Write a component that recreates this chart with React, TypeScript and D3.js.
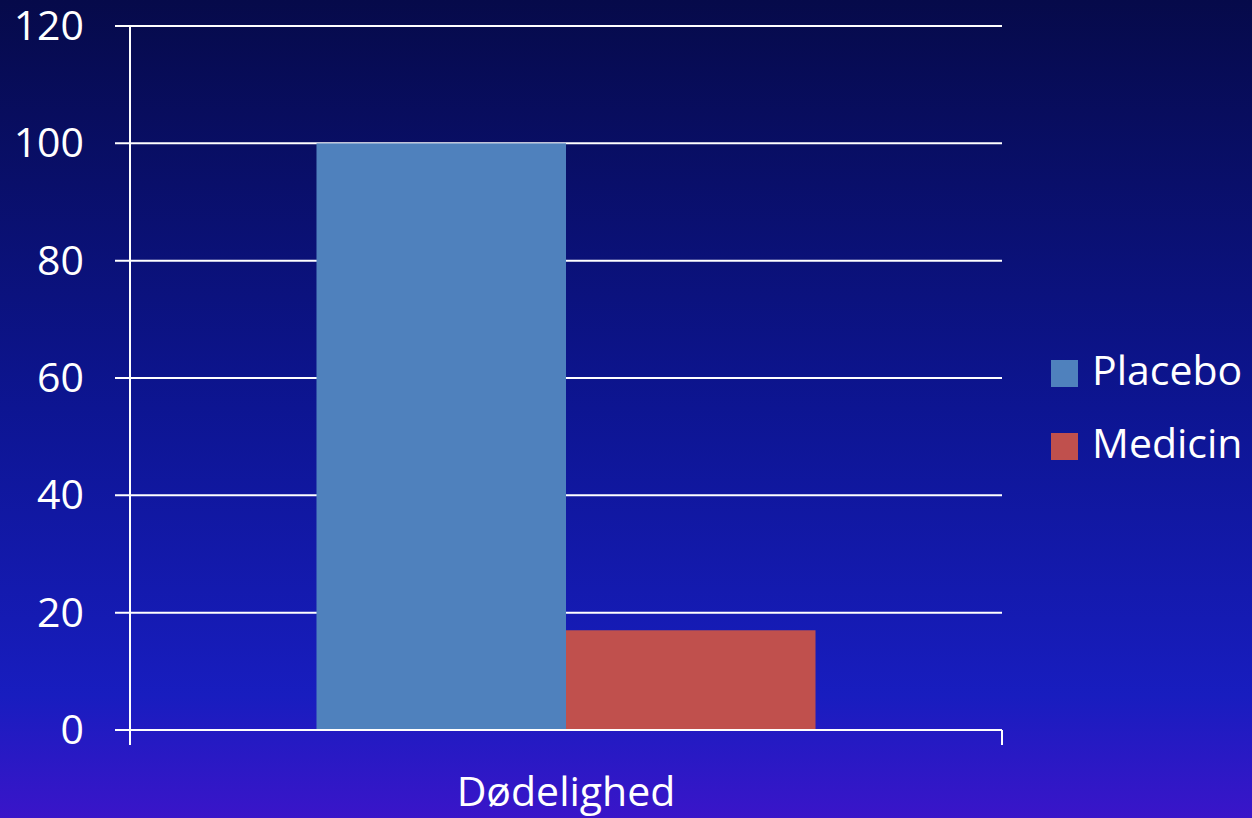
import React from "react";
import * as d3 from "d3";

const categories = ["Dødelighed"];
const seriesNames = ["Placebo", "Medicin"];
const placeboValues = [100];
const medicinValues = [17];
const yTicks = [0, 20, 40, 60, 80, 100, 120];
const colors = ["#4f81bd", "#c0504d"];

export default function App() {
  const W = 1252, H = 818;
  const left = 130, right = 1002, top = 26, bottom = 730;
  const y = d3.scaleLinear().domain([0, 120]).range([bottom, top]);
  const x = d3.scaleBand().domain(categories).range([left, right]).paddingInner(0).paddingOuter(0.3737);
  const inner = d3.scaleBand().domain(seriesNames).range([0, x.bandwidth()]);
  const series = [placeboValues, medicinValues];
  const font = "'Open Sans', sans-serif";
  return (
    <svg width={W} height={H} style={{ position: "fixed", left: 0, top: 0 }} fontFamily={font}>
      <defs>
        <linearGradient id="bg" x1="0" y1="0" x2="0" y2="1">
          <stop offset="0" stopColor="#060a4a" />
          <stop offset="0.5" stopColor="#0d1592" />
          <stop offset="0.85" stopColor="#181dbf" />
          <stop offset="1" stopColor="#3a15c9" />
        </linearGradient>
      </defs>
      <rect x={0} y={0} width={W} height={H} fill="url(#bg)" />
      {yTicks.map((t) => (
        <g key={t}>
          <line x1={left - 15} x2={right} y1={y(t)} y2={y(t)} stroke="#ffffff" strokeWidth={2} />
          <text x={84} y={y(t) + 14} textAnchor="end" fill="#fff" fontSize={41}>{t}</text>
        </g>
      ))}
      <line x1={left} x2={left} y1={top} y2={bottom + 15} stroke="#fff" strokeWidth={2} />
      <line x1={right} x2={right} y1={bottom} y2={bottom + 15} stroke="#fff" strokeWidth={2} />
      {categories.map((c, ci) => (
        <g key={c}>
          {seriesNames.map((s, si) => (
            <rect key={s} x={(x(c) as number) + (inner(s) as number)} width={inner.bandwidth()}
              y={y(series[si][ci])} height={y(0) - y(series[si][ci])} fill={colors[si]} />
          ))}
          <text x={(x(c) as number) + x.bandwidth() / 2} y={806} textAnchor="middle" fill="#fff" fontSize={41}>{c}</text>
        </g>
      ))}
      <line x1={left} x2={right} y1={bottom} y2={bottom} stroke="#fff" strokeWidth={2} />
      {seriesNames.map((s, i) => (
        <g key={s} transform={`translate(1051, ${360 + i * 73})`}>
          <rect x={0} y={0} width={27} height={27} fill={colors[i]} />
          <text x={41} y={25} fill="#fff" fontSize={41}>{s}</text>
        </g>
      ))}
    </svg>
  );
}
